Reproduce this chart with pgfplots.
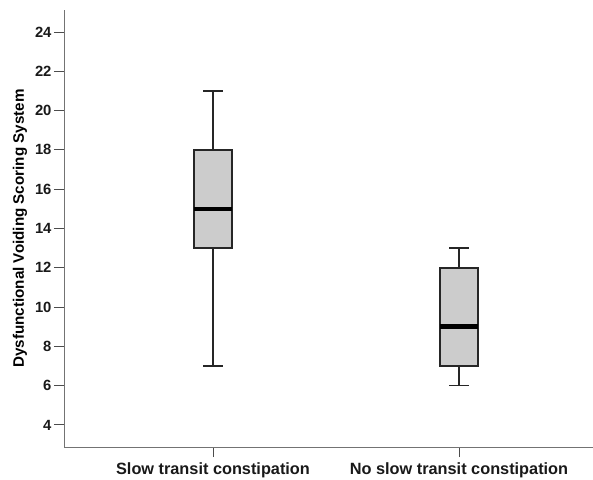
\documentclass[border=0pt]{standalone}
\usepackage{pgfplots}
\pgfplotsset{compat=1.18}
\usepgfplotslibrary{statistics}
\usepackage{fontspec}
\setmainfont{Liberation Sans}
\begin{document}
\begin{tikzpicture}
\path[use as bounding box] (0pt,0pt) rectangle (593pt,479pt);
\begin{axis}[
  at={(64pt,32pt)}, anchor=south west,
  scale only axis, width=529pt, height=437pt,
  xmin=0.3943, xmax=2.5447,
  ymin=2.88, ymax=25.12,
  axis lines*=left,
  axis line style={-, black!55, line width=1pt},
  tick style={black!70, line width=1pt},
  tick align=outside,
  major tick length=10pt,
  xtick={1,2},
  xticklabels={Slow transit constipation, No slow transit constipation},
  ytick={4,6,...,24},
  /pgf/number format/assume math mode=true,
  tick label style={font=\bfseries\fontsize{14.8}{16}\selectfont, text=black!90},
  yticklabel style={xshift=1pt},
  xticklabel style={yshift=-4pt, inner sep=1pt, font=\bfseries\fontsize{16.3}{18}\selectfont},
  ylabel={Dysfunctional Voiding Scoring System},
  ylabel style={at={(axis description cs:-0.0832,0.5)}, anchor=center, font=\bfseries\fontsize{15.2}{17}\selectfont},
  boxplot/draw direction=y,
  boxplot/box extend=0.1545,
  boxplot/whisker extend=0.078,
  boxplot/every median/.style={line width=4.5pt, draw=black},
  boxplot/every whisker/.style={line width=1.6pt, draw=black!85},
  boxplot/every box/.style={line width=1.6pt, draw=black!85, fill=gray!40},
]
\addplot[boxplot prepared={draw position=1, lower whisker=7, lower quartile=13, median=15, upper quartile=18, upper whisker=21}, draw=black!85, fill=gray!40, line width=1.6pt] coordinates {};
\addplot[boxplot prepared={draw position=2, lower whisker=6, lower quartile=7, median=9, upper quartile=12, upper whisker=13}, draw=black!85, fill=gray!40, line width=1.6pt] coordinates {};
\end{axis}
\end{tikzpicture}
\end{document}
